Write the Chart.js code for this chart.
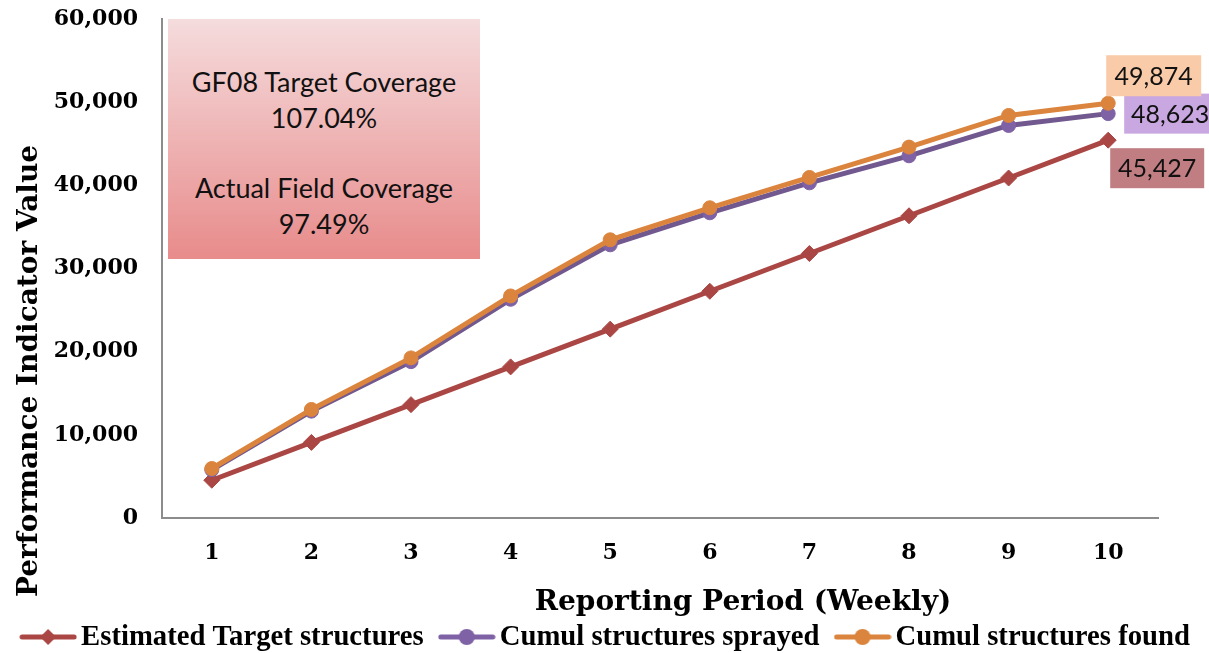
<!DOCTYPE html>
<html>
<head>
<meta charset="utf-8">
<script src="https://cdn.jsdelivr.net/npm/chart.js@4.4.1/dist/chart.umd.min.js"></script>
<style>
  html, body { margin: 0; padding: 0; background: #fff; }
  #wrap { position: relative; width: 1209px; height: 653px; }
  #note {
    position: absolute; left: 168px; top: 19px; width: 312px; height: 240px;
    background: linear-gradient(#f5dcdd, #e88b8b);
    font-family: Lato, "Open Sans", sans-serif; font-size: 27px; color: #111;
    text-align: center; line-height: 36px; box-sizing: border-box; padding-top: 45px;
  }
  #note p { margin: 0; }
  #note .gap { height: 34px; }
</style>
</head>
<body>
<div id="wrap">
  <canvas id="chart" width="1209" height="653"></canvas>
  <div id="note">
    <p>GF08 Target Coverage</p>
    <p>107.04%</p>
    <div class="gap"></div>
    <p>Actual Field Coverage</p>
    <p>97.49%</p>
  </div>
</div>
<script>
// data
const periods = ['1', '2', '3', '4', '5', '6', '7', '8', '9', '10'];
const estTarget = [4540, 9090, 13630, 18170, 22710, 27260, 31800, 36340, 40880, 45427];
const cumSprayed = [5800, 12850, 18800, 26300, 32850, 36700, 40300, 43550, 47200, 48623];
const cumFound = [5950, 13050, 19250, 26700, 33450, 37300, 40950, 44600, 48400, 49874];
const seriesNames = ['Estimated Target structures', 'Cumul structures sprayed', 'Cumul structures found'];
const seriesColors = ['#AA4643', '#71588F', '#DB843D'];
const markerColors = ['#AA4643', '#7E62A5', '#DB843D'];
const markerStyles = ['rectRot', 'circle', 'circle'];
const xTitle = 'Reporting Period (Weekly)';
const yTitle = 'Performance Indicator Value';

// end-of-line value boxes: fill, offset from last point
const endBoxes = [
  { fill: '#C07E82', dx: 2, dy: 8, w: 94, h: 40 },
  { fill: '#C9A7E1', dx: 16, dy: -20, w: 92, h: 40 },
  { fill: '#F9CBA9', dx: -2, dy: -48, w: 95, h: 41 }
];

const tickFont = { family: 'DejaVu Serif', size: 22, weight: 'bold' };
const axisBorder = { display: true, color: '#8c8c8c', width: 2 };

function legendImg(color, style) {
  const c = document.createElement('canvas');
  c.width = 58; c.height = 18;
  const g = c.getContext('2d');
  g.strokeStyle = color; g.lineWidth = 5; g.lineCap = 'round';
  g.beginPath(); g.moveTo(3, 9); g.lineTo(55, 9); g.stroke();
  g.fillStyle = color;
  g.beginPath();
  if (style === 'rectRot') {
    g.moveTo(29, 1); g.lineTo(37, 9); g.lineTo(29, 17); g.lineTo(21, 9);
  } else {
    g.arc(29, 9, 8, 0, Math.PI * 2);
  }
  g.closePath(); g.fill();
  return c;
}
const legendImgs = seriesNames.map((_, i) => legendImg(markerColors[i], markerStyles[i]));

const endLabels = {
  id: 'endLabels',
  afterDatasetsDraw(chart) {
    const ctx = chart.ctx;
    ctx.save();
    chart.data.datasets.forEach((ds, i) => {
      const meta = chart.getDatasetMeta(i);
      const pt = meta.data[meta.data.length - 1];
      const b = endBoxes[i];
      const x = pt.x + b.dx, y = pt.y + b.dy;
      ctx.fillStyle = b.fill;
      ctx.fillRect(x, y, b.w, b.h);
      ctx.fillStyle = '#111';
      ctx.font = '25px Lato, "Open Sans", sans-serif';
      ctx.textAlign = 'center'; ctx.textBaseline = 'middle';
      ctx.fillText(ds.data[ds.data.length - 1].toLocaleString('en-US'), x + b.w / 2, y + b.h / 2 + 1);
    });
    ctx.restore();
  }
};

// axis titles sit off-centre in the original, so they are placed by hand
const axisTitles = {
  id: 'axisTitles',
  afterDraw(chart) {
    const ctx = chart.ctx;
    ctx.save();
    ctx.font = 'bold 28px "DejaVu Serif"';
    ctx.fillStyle = '#000'; ctx.textAlign = 'center'; ctx.textBaseline = 'middle';
    ctx.fillText(xTitle, 743, 603);
    ctx.translate(30, 371); ctx.rotate(-Math.PI / 2);
    ctx.fillText(yTitle, 0, 0);
    ctx.restore();
  }
};

const lineLegend = {
  id: 'lineLegend',
  afterDraw(chart) {
    const ctx = chart.ctx;
    ctx.save();
    ctx.font = 'bold 28.7px "Liberation Serif"';
    const lineW = 56, gapText = 5, gapItem = 15;
    const widths = seriesNames.map(t => ctx.measureText(t).width);
    const total = widths.reduce((a, w) => a + lineW + gapText + w, 0) + gapItem * (seriesNames.length - 1);
    let x = 605 - total / 2;
    const y = 637;
    ctx.fillStyle = '#000'; ctx.textAlign = 'left'; ctx.textBaseline = 'middle';
    seriesNames.forEach((t, i) => {
      ctx.drawImage(legendImgs[i], x - 1, y - 9);
      ctx.fillText(t, x + lineW + gapText, y + 1);
      x += lineW + gapText + widths[i] + gapItem;
    });
    ctx.restore();
  }
};

const seriesData = [estTarget, cumSprayed, cumFound];
const datasets = seriesData.map((d, i) => ({
  label: seriesNames[i], data: d,
  borderColor: seriesColors[i], borderWidth: 5,
  pointStyle: markerStyles[i],
  pointRadius: markerStyles[i] === 'rectRot' ? 8 : 7,
  pointBackgroundColor: markerColors[i], pointBorderColor: markerColors[i], pointBorderWidth: 1,
  tension: 0, order: 2 - i
}));

new Chart(document.getElementById('chart'), {
  type: 'line',
  data: { labels: periods, datasets },
  plugins: [endLabels, axisTitles, lineLegend],
  options: {
    responsive: false, animation: false,
    layout: { padding: { top: 19, right: 51, left: 0, bottom: 0 } },
    plugins: {
      tooltip: { enabled: false },
      legend: { display: false }
    },
    scales: {
      x: {
        offset: true,
        ticks: { padding: 22, color: '#000', font: tickFont },
        grid: { display: false, drawTicks: false },
        border: axisBorder,
        afterFit: s => { s.height = 135; }
      },
      y: {
        min: 0, max: 60000,
        ticks: { stepSize: 10000, padding: 24, color: '#000', font: tickFont, callback: v => v.toLocaleString('en-US') },
        grid: { display: false, drawTicks: false },
        border: axisBorder,
        // keep the label gap without letting it push the plot top down
        afterFit: s => { s.width = 162; s.paddingTop = 0; s.paddingBottom = 0; }
      }
    }
  }
});
</script>
</body>
</html>
